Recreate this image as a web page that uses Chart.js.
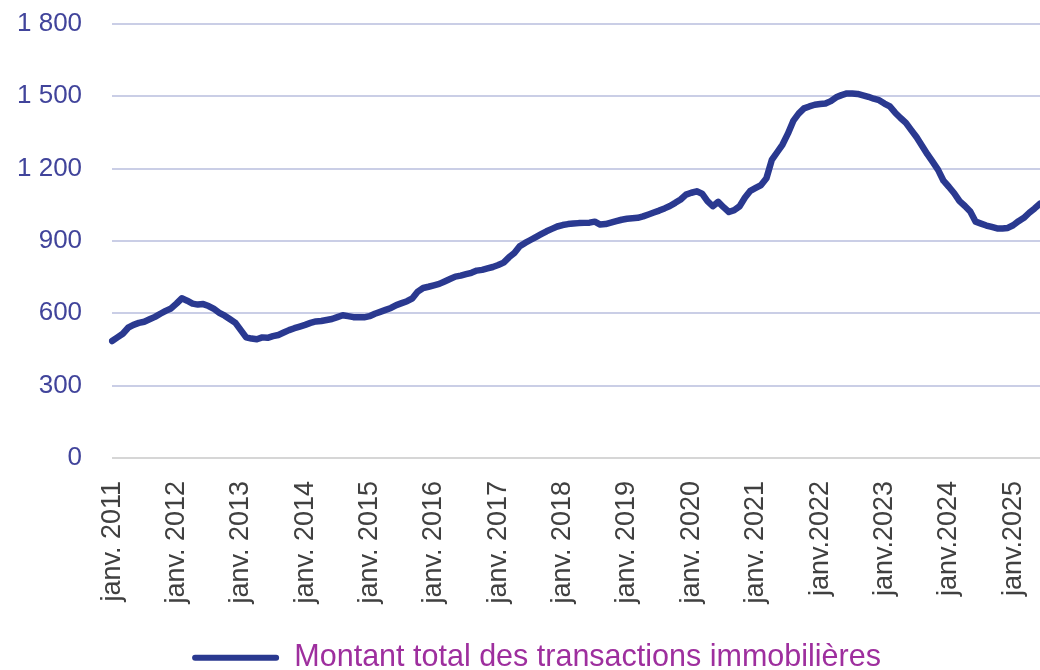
<!DOCTYPE html>
<html>
<head>
<meta charset="utf-8">
<script src="https://cdn.jsdelivr.net/npm/chart.js@4.4.1/dist/chart.umd.min.js"></script>
<style>
  html, body { margin: 0; padding: 0; background: #ffffff; overflow: hidden; }
  #wrap { width: 1040px; height: 670px; }
</style>
</head>
<body>
<div id="wrap"><canvas id="c" width="1040" height="670"></canvas></div>
<script>
// ---- Data (monthly, janv. 2011 -> juin 2025) ----
const monthNames = ['janv.', 'févr.', 'mars', 'avr.', 'mai', 'juin', 'juil.', 'août', 'sept.', 'oct.', 'nov.', 'déc.'];
const years = [2011, 2012, 2013, 2014, 2015, 2016, 2017, 2018, 2019, 2020, 2021, 2022, 2023, 2024, 2025];
const categories = [];
years.forEach(y => monthNames.forEach(m => categories.push(m + ' ' + y)));
categories.length = 174;

// Tick labels shown under each January
const yearTickLabels = [
  'janv. 2011', 'janv. 2012', 'janv. 2013', 'janv. 2014', 'janv. 2015',
  'janv. 2016', 'janv. 2017', 'janv. 2018', 'janv. 2019', 'janv. 2020',
  'janv. 2021', 'janv.2022', 'janv.2023', 'janv.2024', 'janv.2025'
];

const seriesName = 'Montant total des transactions immobilières';
const montant = [
  // 2011
  485, 500, 515, 540, 552, 560, 565, 575, 585, 598, 610, 620,
  // 2012
  640, 662, 652, 640, 636, 638, 630, 618, 602, 590, 575, 560,
  // 2013
  530, 500, 495, 492, 500, 498, 505, 510, 520, 530, 538, 545,
  // 2014
  552, 560, 566, 568, 572, 576, 584, 592, 588, 584, 584, 583,
  // 2015
  588, 598, 606, 614, 622, 634, 642, 650, 662, 690, 705, 710,
  // 2016
  716, 722, 732, 742, 752, 756, 762, 768, 777, 780, 786, 792,
  // 2017
  800, 810, 832, 850, 878, 892, 904, 916, 928, 940, 950, 960,
  // 2018
  966, 970, 972, 974, 975, 976, 980, 968, 970, 976, 982, 988,
  // 2019
  992, 994, 996, 1002, 1010, 1018, 1026, 1035, 1045, 1058, 1072, 1092,
  // 2020
  1100, 1106, 1096, 1065, 1044, 1062, 1040, 1020, 1028, 1044, 1080, 1108,
  // 2021
  1120, 1132, 1160, 1236, 1268, 1300, 1345, 1398, 1428, 1450, 1458, 1465,
  // 2022
  1468, 1470, 1480, 1496, 1505, 1512, 1512, 1510, 1504, 1498, 1490, 1484,
  // 2023
  1470, 1458, 1432, 1410, 1390, 1360, 1330, 1295, 1260, 1228, 1195, 1150,
  // 2024
  1125, 1098, 1065, 1045, 1022, 980, 972, 964, 958, 952, 952, 954,
  // 2025
  965, 982, 996, 1017, 1035, 1055
];

const yMin = 0, yMax = 1800, yStep = 300;

// ---- Chart ----
function fmtThousands(v) {
  return String(v).replace(/\B(?=(\d{3})+(?!\d))/g, ' ');
}

new Chart(document.getElementById('c'), {
  type: 'line',
  data: {
    labels: categories,
    datasets: [{
      label: seriesName,
      data: montant,
      borderColor: '#2a3990',
      backgroundColor: '#2a3990',
      borderWidth: 6.5,
      pointRadius: 0,
      tension: 0,
      borderCapStyle: 'round',
      borderJoinStyle: 'round',
      fill: false
    }]
  },
  options: {
    responsive: false,
    animation: false,
    devicePixelRatio: 1,
    layout: { padding: { left: -13, right: -46, top: 24, bottom: -13 } },
    plugins: {
      tooltip: { enabled: false },
      legend: {
        position: 'bottom',
        labels: {
          boxWidth: 87,
          boxHeight: 6,
          padding: 16,
          color: '#9e2f9e',
          font: { family: '"Liberation Sans", Arial, sans-serif', size: 30.5 },
          generateLabels: function (chart) {
            const items = Chart.defaults.plugins.legend.labels.generateLabels(chart);
            items.forEach(it => { it.lineWidth = 0; it.borderRadius = 3; it.fillStyle = '#2a3990'; });
            return items;
          }
        }
      }
    },
    scales: {
      x: {
        type: 'category',
        offset: false,
        grid: { display: false, drawTicks: false },
        border: { display: false },
        afterFit: s => { s.paddingRight = 0; },
        ticks: {
          autoSkip: false,
          minRotation: 90,
          maxRotation: 90,
          padding: 23,
          color: '#404040',
          font: { family: '"Liberation Sans", Arial, sans-serif', size: 27 },
          callback: function (value, index) {
            return index % 12 === 0 ? yearTickLabels[index / 12] : null;
          }
        }
      },
      y: {
        min: yMin,
        max: yMax,
        afterFit: s => { s.paddingTop = 0; },
        grid: {
          drawTicks: false,
          lineWidth: 2,
          color: ctx => (ctx.tick && ctx.tick.value === 0) ? '#d6d6d6' : '#cacee6'
        },
        border: { display: false },
        ticks: {
          stepSize: yStep,
          padding: 30,
          color: '#41449b',
          font: { family: '"Liberation Sans", Arial, sans-serif', size: 26 },
          callback: v => fmtThousands(v)
        }
      }
    }
  }
});
</script>
</body>
</html>
